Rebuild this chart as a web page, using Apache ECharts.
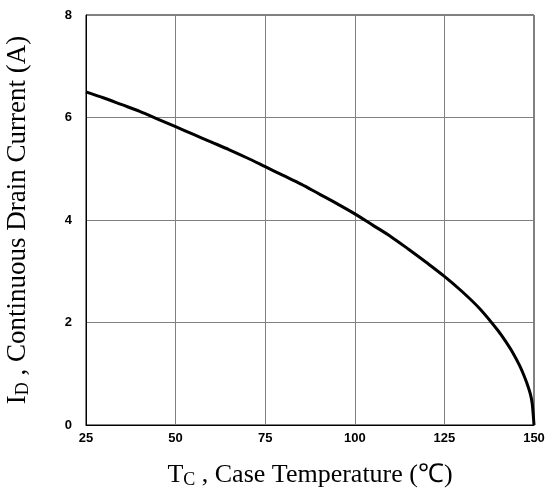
<!DOCTYPE html>
<html>
<head>
<meta charset="utf-8">
<script src="https://cdn.jsdelivr.net/npm/echarts@6/dist/echarts.min.js"></script>
<style>
  html, body { margin: 0; padding: 0; background: #fff; }
  #chart { width: 550px; height: 498px; }
</style>
</head>
<body>
<div id="chart"></div>
<script>
// case temperature (°C) and continuous drain current (A)
var tempC = [25, 30, 35, 40, 45, 50, 55, 60, 65, 70, 75, 80, 85, 90, 95, 100, 105, 110, 115, 120, 125, 130, 135, 140, 142, 144, 146, 147, 148, 149, 149.5, 150];
var drainA = [6.5, 6.38, 6.25, 6.12, 5.97, 5.82, 5.67, 5.52, 5.37, 5.21, 5.04, 4.87, 4.7, 4.51, 4.32, 4.12, 3.9, 3.68, 3.43, 3.17, 2.9, 2.6, 2.26, 1.84, 1.64, 1.42, 1.16, 1.0, 0.82, 0.6, 0.42, 0];
var xTicks = [25, 50, 75, 100, 125, 150];
var yTicks = [0, 2, 4, 6, 8];

var pts = tempC.map(function (t, i) { return [t, drainA[i]]; });

var chart = echarts.init(document.getElementById('chart'));

var subStyle = { fontFamily: 'Liberation Serif', fontSize: 18, padding: [10, 0, 0, 0], color: '#000' };

chart.setOption({
    animation: false,
    grid: {
        left: 86, right: 16, top: 15, bottom: 73,
        outerBoundsMode: 'none', containLabel: false,
        show: true, borderColor: '#000', borderWidth: 1
    },
    xAxis: {
        type: 'value',
        min: xTicks[0], max: xTicks[xTicks.length - 1], interval: 25,
        name: 'T{sub|C} , Case Temperature (℃)',
        nameLocation: 'middle', nameGap: 36,
        nameTextStyle: { fontFamily: 'Liberation Serif', fontSize: 26, color: '#000', rich: { sub: subStyle } },
        axisLine: { lineStyle: { color: '#000', width: 1 } },
        axisTick: { show: false },
        axisLabel: { fontFamily: 'Liberation Sans', fontWeight: 'bold', fontSize: 13, color: '#000', margin: 7 },
        splitLine: { show: true, lineStyle: { color: '#808080', width: 1 } }
    },
    yAxis: {
        type: 'value',
        min: yTicks[0], max: yTicks[yTicks.length - 1], interval: 2,
        name: 'I{sub|D} , Continuous Drain Current (A)',
        nameLocation: 'middle', nameGap: 54, nameRotate: 90,
        nameTextStyle: { fontFamily: 'Liberation Serif', fontSize: 27, color: '#000', rich: { sub: subStyle } },
        axisLine: { show: true, lineStyle: { color: '#000', width: 1 } },
        axisTick: { show: false },
        axisLabel: { fontFamily: 'Liberation Sans', fontWeight: 'bold', fontSize: 13, color: '#000', margin: 14 },
        splitLine: { show: true, lineStyle: { color: '#808080', width: 1 } }
    },
    series: [{
        type: 'line',
        data: pts,
        smooth: 0.3,
        showSymbol: false,
        lineStyle: { color: '#000', width: 3 }
    }]
});
</script>
</body>
</html>
